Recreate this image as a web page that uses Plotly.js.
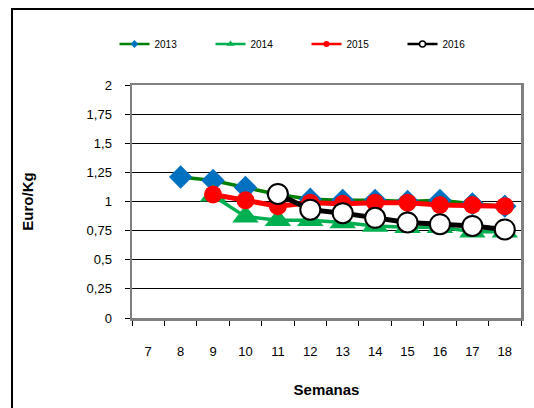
<!DOCTYPE html>
<html>
<head>
<meta charset="utf-8">
<script src="https://cdn.plot.ly/plotly-3.0.1.min.js"></script>
<style>
html,body{margin:0;padding:0;background:#fff;}
#wrap{position:relative;width:534px;height:408px;overflow:hidden;}
#chart{width:534px;height:408px;}
#frame{position:absolute;left:11px;top:8px;width:600px;height:500px;border-top:2px solid #000;border-left:2px solid #000;pointer-events:none;}
</style>
</head>
<body>
<div id="wrap"><div id="chart"></div><div id="frame"></div></div>
<script>
var weeks = ["7","8","9","10","11","12","13","14","15","16","17","18"];
var weeks2013 = ["8","9","10","11","12","13","14","15","16","17","18"];
var v2013 = [1.21, 1.18, 1.12, 1.06, 1.02, 1.01, 1.01, 1.00, 1.01, 0.98, 0.96];
var weeks2014 = ["9","10","11","12","13","14","15","16","17","18"];
var v2014 = [1.05, 0.87, 0.84, 0.84, 0.82, 0.79, 0.78, 0.78, 0.74, 0.74];
var weeks2015 = ["9","10","11","12","13","14","15","16","17","18"];
var v2015 = [1.06, 1.01, 0.96, 0.99, 0.98, 0.99, 0.99, 0.97, 0.97, 0.96];
var weeks2016 = ["11","12","13","14","15","16","17","18"];
var v2016 = [1.065, 0.93, 0.90, 0.86, 0.82, 0.805, 0.79, 0.76];
var yTickVals = [0, 0.25, 0.5, 0.75, 1, 1.25, 1.5, 1.75, 2];
var yTickText = ["0", "0,25", "0,5", "0,75", "1", "1,25", "1,5", "1,75", "2"];
var seriesNames = ["2013", "2014", "2015", "2016"];

var font = "Arial, 'Liberation Sans', sans-serif";

var traces = [
  {x: weeks2013, y: v2013, name: seriesNames[0], legendgroup: "a", showlegend: false, mode: "lines+markers",
   line: {color: "#008000", width: 3.5}, marker: {symbol: "diamond", size: 18, color: "#0070C0"}},
  {x: weeks2014, y: v2014, name: seriesNames[1], legendgroup: "b", showlegend: false, mode: "lines+markers",
   line: {color: "#00B050", width: 3.5}, marker: {symbol: "triangle-up", size: 23, color: "#00B050"}},
  {x: weeks2015, y: v2015, name: seriesNames[2], legendgroup: "c", showlegend: false, mode: "lines+markers",
   line: {color: "#FF0000", width: 5}, marker: {symbol: "circle", size: 18, color: "#FF0000"}},
  {x: weeks2016, y: v2016, name: seriesNames[3], legendgroup: "d", showlegend: false, mode: "lines+markers",
   line: {color: "#000000", width: 5}, marker: {symbol: "circle", size: 20, color: "#FFFFFF", line: {color: "#000000", width: 2}}},
  // legend-only entries (small symbols like the reference legend)
  {x: [null], y: [null], name: seriesNames[0], legendgroup: "a", mode: "lines+markers",
   line: {color: "#008000", width: 2.5}, marker: {symbol: "diamond", size: 6, color: "#0070C0"}},
  {x: [null], y: [null], name: seriesNames[1], legendgroup: "b", mode: "lines+markers",
   line: {color: "#00B050", width: 2.5}, marker: {symbol: "triangle-up", size: 7, color: "#00B050"}},
  {x: [null], y: [null], name: seriesNames[2], legendgroup: "c", mode: "lines+markers",
   line: {color: "#FF0000", width: 2.5}, marker: {symbol: "circle", size: 6, color: "#FF0000"}},
  {x: [null], y: [null], name: seriesNames[3], legendgroup: "d", mode: "lines+markers",
   line: {color: "#000000", width: 2.5}, marker: {symbol: "circle", size: 6, color: "#FFFFFF", line: {color: "#000000", width: 1.5}}}
];

var layout = {
  width: 534, height: 408,
  margin: {l: 132, r: 13, t: 85, b: 90},
  paper_bgcolor: "#FFFFFF", plot_bgcolor: "#FFFFFF",
  font: {family: font, size: 13, color: "#000000"},
  showlegend: true,
  legend: {orientation: "h", x: -0.045, xanchor: "left", y: 1.176, yanchor: "middle",
           font: {family: font, size: 10, color: "#000"}, entrywidth: 51, entrywidthmode: "pixels",
           bgcolor: "rgba(0,0,0,0)", traceorder: "normal"},
  xaxis: {type: "category", categoryorder: "array", categoryarray: weeks, range: [-0.5, 11.5],
          tickson: "boundaries", ticks: "outside", ticklen: 5, tickcolor: "#000", tickwidth: 1,
          showgrid: false, zeroline: false, showline: true, linecolor: "#808080", linewidth: 2.5, mirror: true,
          ticklabelstandoff: 20, tickfont: {family: font, size: 13, color: "#000"},
          title: {text: "Semanas", font: {family: font, size: 15, color: "#000", weight: "bold"}, standoff: 27},
          fixedrange: true},
  yaxis: {range: [0, 2], tickvals: yTickVals, ticktext: yTickText,
          ticks: "outside", ticklen: 5, tickcolor: "#000", tickwidth: 1,
          showgrid: true, gridcolor: "#000000", gridwidth: 1, zeroline: false,
          showline: true, linecolor: "#808080", linewidth: 2.5, mirror: true,
          ticklabelstandoff: 10, tickfont: {family: font, size: 13, color: "#000"},
          title: {text: "Euro/Kg", font: {family: font, size: 15, color: "#000", weight: "bold"}, standoff: 50},
          fixedrange: true}
};

Plotly.newPlot("chart", traces, layout, {displayModeBar: false, staticPlot: true});
</script>
</body>
</html>
